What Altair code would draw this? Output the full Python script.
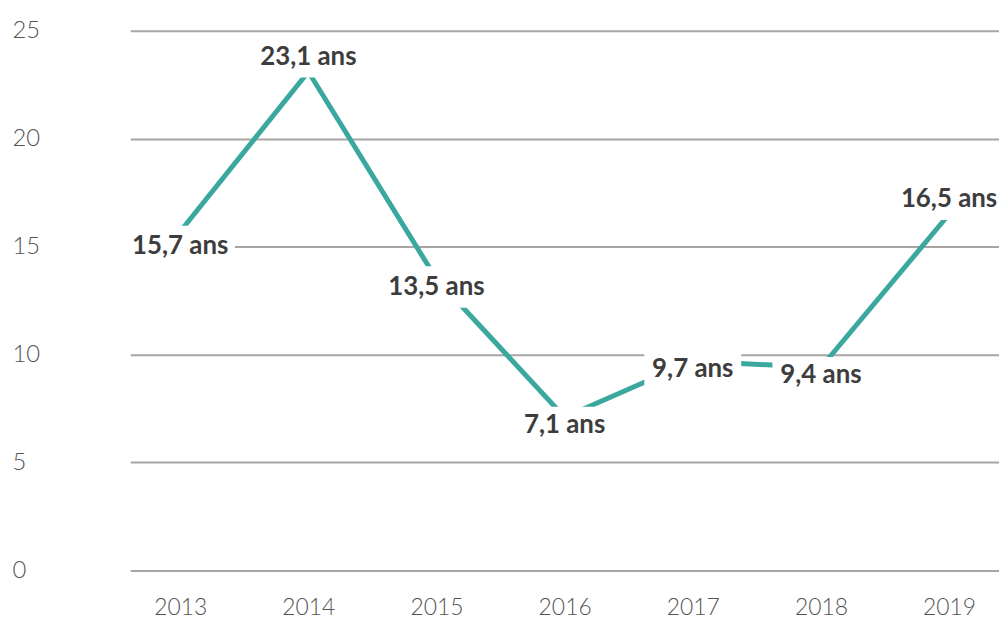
import altair as alt
import pandas as pd

years = ["2013", "2014", "2015", "2016", "2017", "2018", "2019"]
values = [15.7, 23.1, 13.5, 7.1, 9.7, 9.4, 16.5]
placement = ["sur", "dessus", "dessous", "dessous", "dessous", "dessous", "dessus"]
y_ticks = [0, 5, 10, 15, 20, 25]

labels = [f"{v:.1f}".replace(".", ",") + " ans" for v in values]
df = pd.DataFrame({"annee": years, "valeur": values, "etiquette": labels, "position": placement})

TICK_FONT = "Lato"
x = alt.X(
    "annee:N", sort=years,
    scale=alt.Scale(type="point", padding=0.39),
    axis=alt.Axis(title=None, labelAngle=0, labelFont=TICK_FONT, labelFontWeight=300,
                  labelFontSize=23, labelColor="#555555", labelPadding=44,
                  labelBaseline="alphabetic",
                  ticks=False, tickSize=0, domain=False, grid=False),
)
y = alt.Y(
    "valeur:Q",
    scale=alt.Scale(domain=[0, 25], nice=False, zero=True),
    axis=alt.Axis(title=None, values=y_ticks, labelAlign="left", labelBaseline="middle",
                  labelPadding=119, ticks=False, tickSize=0, domain=False,
                  grid=True, gridColor="#a8a5a2", gridWidth=2,
                  labelFont=TICK_FONT, labelFontWeight=300, labelFontSize=24,
                  labelColor="#555555"),
)

base = alt.Chart(df)
line = base.mark_line(color="#3aa89f", strokeWidth=5).encode(x=x, y=y)

layers = [line]
offsets = {"dessus": -15, "dessous": 8, "sur": 15}
for pos, off in offsets.items():
    sub = base.transform_filter(alt.datum.position == pos)
    box = sub.transform_calculate(
        taille="pow(length(datum.etiquette) * 12.5 + 10, 2)"
    ).mark_point(
        shape="M-1,-0.38L1,-0.38L1,0.38L-1,0.38Z", filled=True, color="white",
        fill="white", opacity=1, strokeWidth=0, yOffset=off,
    ).encode(x=x, y=y, size=alt.Size("taille:Q", scale=None, legend=None))
    txt = sub.mark_text(
        font="Lato", fontWeight="bold", fontSize=26, color="#3d3d3d",
        baseline="middle", align="center", yOffset=off,
    ).encode(x=x, y=y, text="etiquette:N")
    layers += [box, txt]

chart = alt.layer(*layers).properties(
    width=874, height=543,
    autosize=alt.AutoSizeParams(type="none"),
    padding={"left": 123, "top": 21, "right": 0, "bottom": 50},
    background="white",
).configure_view(stroke=None)

chart.save("out.html", embed_options={"renderer": "svg", "actions": False})
